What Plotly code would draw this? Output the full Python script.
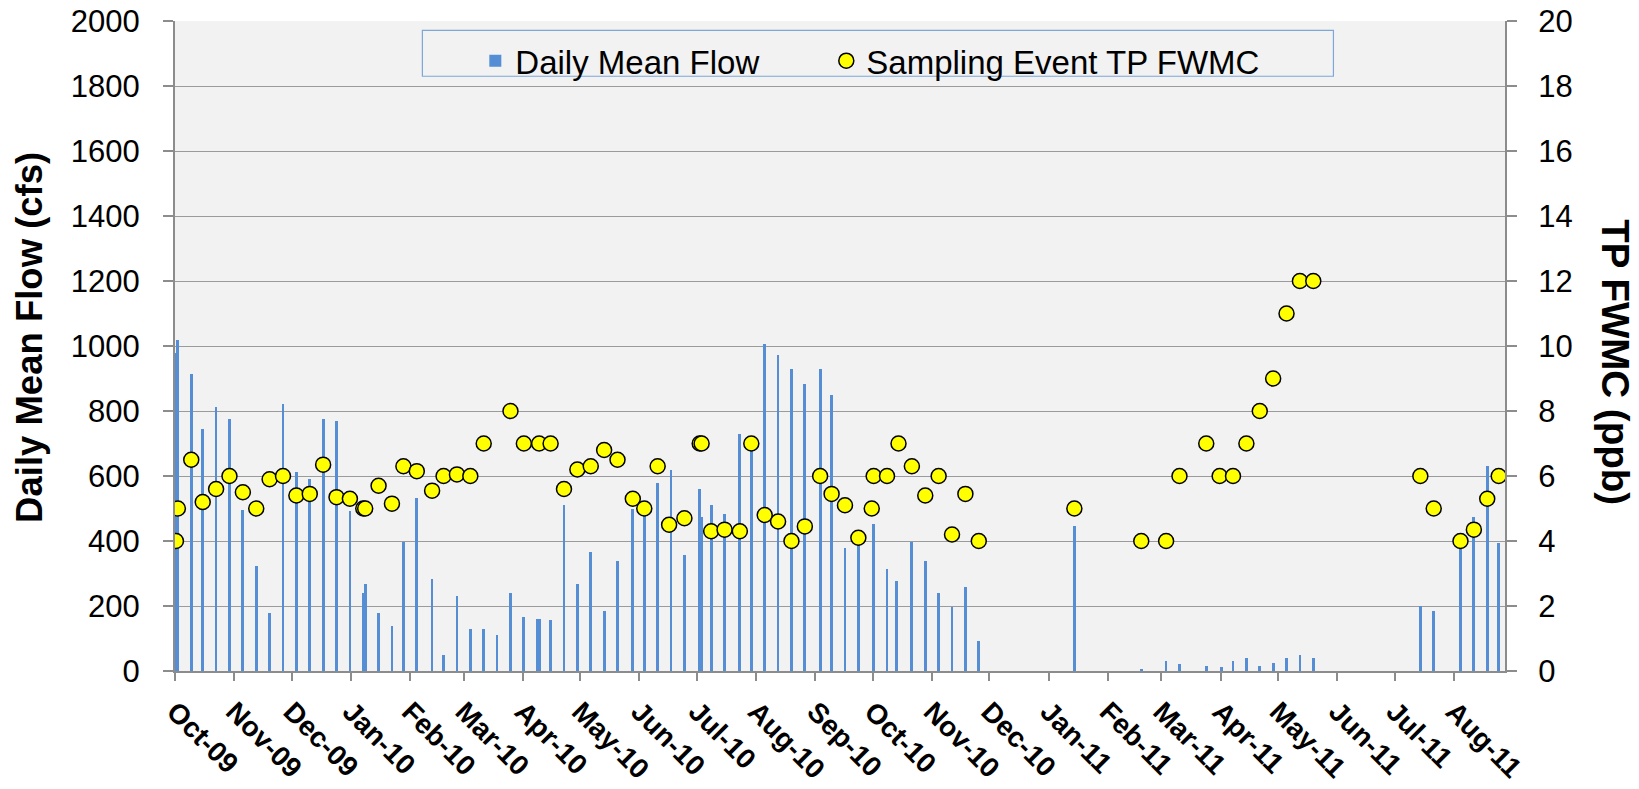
import pandas as pd
import plotly.graph_objects as go

# ---- data ----
flow_dates = [
    "2009-10-01", "2009-10-02", "2009-10-09", "2009-10-15", "2009-10-22", "2009-10-29",
    "2009-11-05", "2009-11-12", "2009-11-19", "2009-11-26", "2009-12-03", "2009-12-10",
    "2009-12-17", "2009-12-24", "2009-12-31", "2010-01-07", "2010-01-08", "2010-01-15",
    "2010-01-22", "2010-01-28", "2010-02-04", "2010-02-12", "2010-02-18", "2010-02-25",
    "2010-03-04", "2010-03-11", "2010-03-18", "2010-03-25", "2010-04-01", "2010-04-08",
    "2010-04-09", "2010-04-15", "2010-04-22", "2010-04-29", "2010-05-06", "2010-05-13",
    "2010-05-20", "2010-05-28", "2010-06-03", "2010-06-10", "2010-06-17", "2010-06-24",
    "2010-07-02", "2010-07-03", "2010-07-08", "2010-07-15", "2010-07-23", "2010-07-29",
    "2010-08-05", "2010-08-12", "2010-08-19", "2010-08-26", "2010-09-03", "2010-09-09",
    "2010-09-16", "2010-09-23", "2010-10-01", "2010-10-08", "2010-10-13", "2010-10-21",
    "2010-10-28", "2010-11-04", "2010-11-11", "2010-11-18", "2010-11-25", "2011-01-14",
    "2011-02-18", "2011-03-03", "2011-03-10", "2011-03-24", "2011-04-01", "2011-04-07",
    "2011-04-14", "2011-04-21", "2011-04-28", "2011-05-05", "2011-05-12", "2011-05-19",
    "2011-07-14", "2011-07-21", "2011-08-04", "2011-08-11", "2011-08-18", "2011-08-24",
]
flow_cfs = [
    980, 1018, 915, 746, 812, 774,
    494, 323, 180, 821, 612, 590,
    774, 770, 491, 240, 268, 180,
    137, 397, 533, 282, 48, 230,
    128, 128, 110, 240, 165, 161,
    160, 156, 510, 268, 365, 184,
    337, 500, 480, 580, 617, 356,
    561, 475, 510, 482, 728, 700,
    1007, 971, 928, 882, 928, 849,
    380, 395, 453, 314, 277, 397,
    337, 240, 197, 258, 91, 446,
    7, 30, 21, 16, 11, 30,
    40, 16, 26, 40, 48, 40,
    201, 185, 400, 474, 630, 393,
]

tp_dates = [
    "2009-10-01", "2009-10-02", "2009-10-09", "2009-10-15", "2009-10-22", "2009-10-29",
    "2009-11-05", "2009-11-12", "2009-11-19", "2009-11-26", "2009-12-03", "2009-12-10",
    "2009-12-17", "2009-12-24", "2009-12-31", "2010-01-07", "2010-01-08", "2010-01-15",
    "2010-01-22", "2010-01-28", "2010-02-04", "2010-02-12", "2010-02-18", "2010-02-25",
    "2010-03-04", "2010-03-11", "2010-03-25", "2010-04-01", "2010-04-09", "2010-04-15",
    "2010-04-22", "2010-04-29", "2010-05-06", "2010-05-13", "2010-05-20", "2010-05-28",
    "2010-06-03", "2010-06-10", "2010-06-16", "2010-06-24", "2010-07-02", "2010-07-03",
    "2010-07-08", "2010-07-15", "2010-07-23", "2010-07-29", "2010-08-05", "2010-08-12",
    "2010-08-19", "2010-08-26", "2010-09-03", "2010-09-09", "2010-09-16", "2010-09-23",
    "2010-09-30", "2010-10-01", "2010-10-08", "2010-10-14", "2010-10-21", "2010-10-28",
    "2010-11-04", "2010-11-11", "2010-11-18", "2010-11-25", "2011-01-14", "2011-02-18",
    "2011-03-03", "2011-03-10", "2011-03-24", "2011-03-31", "2011-04-07", "2011-04-14",
    "2011-04-21", "2011-04-28", "2011-05-05", "2011-05-12", "2011-05-19", "2011-07-14",
    "2011-07-21", "2011-08-04", "2011-08-11", "2011-08-18", "2011-08-24",
]
tp_ppb = [
    4.0, 5.0, 6.5, 5.2, 5.6, 6.0,
    5.5, 5.0, 5.9, 6.0, 5.4, 5.45,
    6.35, 5.35, 5.3, 5.0, 5.0, 5.7,
    5.15, 6.3, 6.15, 5.55, 6.0, 6.05,
    6.0, 7.0, 8.0, 7.0, 7.0, 7.0,
    5.6, 6.2, 6.3, 6.8, 6.5, 5.3,
    5.0, 6.3, 4.5, 4.7, 7.0, 7.0,
    4.3, 4.35, 4.3, 7.0, 4.8, 4.6,
    4.0, 4.45, 6.0, 5.45, 5.1, 4.1,
    5.0, 6.0, 6.0, 7.0, 6.3, 5.4,
    6.0, 4.2, 5.45, 4.0, 5.0, 4.0,
    4.0, 6.0, 7.0, 6.0, 6.0, 7.0,
    8.0, 9.0, 11.0, 12.0, 12.0, 6.0,
    5.0, 4.0, 4.35, 5.3, 6.0,
]

month_ticks = pd.date_range("2009-10-01", "2011-08-01", freq="MS")
month_labels = [d.strftime("%b-%y") for d in month_ticks]

# daily slots: marks sit in the middle of their day
half_day = pd.Timedelta(hours=12)
flow_x = pd.to_datetime(flow_dates) + half_day
tp_x = pd.to_datetime(tp_dates) + half_day

FONT = "Arial, 'Liberation Sans', sans-serif"
GRID = "#9b9b9b"
AXIS = "#8c8c8c"

fig = go.Figure()
fig.add_trace(go.Bar(
    x=flow_x, y=flow_cfs, name="Daily Mean Flow", legend="legend",
    marker=dict(color="#558ED5", line=dict(width=0)),
    width=1.45 * 86400000,
))
fig.add_trace(go.Scatter(
    x=tp_x, y=tp_ppb, name="Sampling Event TP FWMC", yaxis="y2", legend="legend2",
    mode="markers",
    marker=dict(color="#FFFF00", size=15, line=dict(color="black", width=1.5)),
))

legend_common = dict(
    orientation="h", yanchor="top", y=0.982,
    bgcolor="rgba(0,0,0,0)", borderwidth=0,
    font=dict(family=FONT, size=33, color="black"),
)

fig.update_layout(
    width=1639, height=789,
    margin=dict(l=174.6, r=134.3, t=20.7, b=118.3, pad=0, autoexpand=False),
    paper_bgcolor="white", plot_bgcolor="#F2F2F2",
    font=dict(family=FONT, color="black"),
    showlegend=True,
    bargap=0,
    legend=dict(legend_common, x=0.2258, xanchor="left"),
    legend2=dict(legend_common, x=0.4897, xanchor="left"),
    shapes=[dict(
        type="rect", xref="paper", yref="paper",
        x0=0.186, x1=0.871, y0=0.915, y1=0.9857,
        line=dict(color="#7DA7D9", width=1.2), fillcolor="#F2F2F2", layer="below",
    )],
    xaxis=dict(
        type="date", automargin=False,
        range=["2009-10-01", "2011-08-27 19:00"],
        tickmode="array", tickvals=month_ticks, ticktext=month_labels,
        tickangle=45,
        tickfont=dict(family=FONT, size=28, color="black", weight="bold"),
        ticks="outside", ticklen=8, tickwidth=1.5, tickcolor=AXIS,
        showline=True, linecolor=AXIS, linewidth=2,
        showgrid=False, zeroline=False,
        ticklabelstandoff=3, ticklabeloverflow="allow",
    ),
    yaxis=dict(
        range=[0, 2000], tickmode="linear", tick0=0, dtick=200, automargin=False,
        tickfont=dict(family=FONT, size=31, color="black"),
        ticks="outside", ticklen=10, tickwidth=1.5, tickcolor=AXIS,
        showline=True, linecolor=AXIS, linewidth=2,
        showgrid=True, gridcolor=GRID, gridwidth=1.3,
        zeroline=False,
        ticklabelstandoff=17, ticklabeloverflow="allow",
    ),
    yaxis2=dict(
        range=[0, 20], tickmode="linear", tick0=0, dtick=2, automargin=False,
        overlaying="y", side="right",
        tickfont=dict(family=FONT, size=31, color="black"),
        ticks="outside", ticklen=10, tickwidth=1.5, tickcolor=AXIS,
        showline=True, linecolor=AXIS, linewidth=2,
        showgrid=False, zeroline=False,
        ticklabelstandoff=15, ticklabeloverflow="allow",
    ),
    annotations=[
        dict(text="<b>Daily Mean Flow (cfs)</b>", xref="paper", yref="paper",
             x=-0.1095, y=0.513, xanchor="center", yanchor="middle",
             textangle=-90, showarrow=False,
             font=dict(family=FONT, size=36.5, color="black")),
        dict(text="<b>TP FWMC (ppb)</b>", xref="paper", yref="paper",
             x=1.0835, y=0.475, xanchor="center", yanchor="middle",
             textangle=90, showarrow=False,
             font=dict(family=FONT, size=38.5, color="black")),
    ],
)

# remove the browser's default 8 px body margin so the figure fills the window exactly
fig.write_html(
    "out.html",
    config={"displayModeBar": False},
    post_script="document.body.style.margin='0';",
)
